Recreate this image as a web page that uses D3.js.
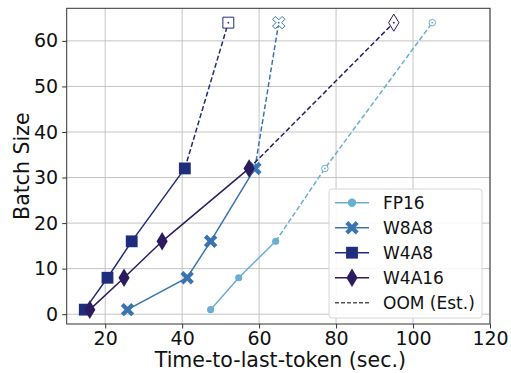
<!DOCTYPE html>
<html>
<head>
<meta charset="utf-8">
<script src="https://cdn.jsdelivr.net/npm/d3@7"></script>
<style>
  body { margin: 0; background: #fff; }
  svg { font-family: "DejaVu Sans", sans-serif; }
</style>
</head>
<body>
<svg id="chart" width="511" height="373"></svg>
<script>
// batch sizes measured, and the estimated OOM point
const batchSizes = [1, 8, 16, 32, 64];
const methods = ["FP16", "W8A8", "W4A8", "W4A16"];
// time-to-last-token per batch size (sec.)
const fp16Times = [47.4, 54.7, 64.3, 77.1, 105.0];
const w8a8Times = [25.8, 41.3, 47.4, 58.9, 65.1];
const w4a8Times = [14.7, 20.6, 26.9, 40.7, 52.0];
const w4a16Times = [16.0, 24.9, 34.8, 57.4, 95.0];
// index where the estimated (OOM) part begins for each method
const oomStart = [3, 4, 4, 4];
const xTicks = [20, 40, 60, 80, 100, 120];
const yTicks = [0, 10, 20, 30, 40, 50, 60];

const colors = ["#6aaed0", "#3a74b0", "#1e2e7c", "#2d1b60"];
const shapes = ["circle", "cross", "square", "diamond"];
const allTimes = [fp16Times, w8a8Times, w4a8Times, w4a16Times];

const margin = { left: 66.7, right: 21, top: 8.3, bottom: 49 };
const W = 511, H = 373;
const width = W - margin.left - margin.right;
const height = H - margin.top - margin.bottom;

const svg = d3.select("#chart");
const g = svg.append("g").attr("transform", `translate(${margin.left},${margin.top})`);

const x = d3.scaleLinear().domain([10, 120]).range([0, width]);
const y = d3.scaleLinear().domain([-2.15, 67.15]).range([height, 0]);

// grid
g.append("g").selectAll("line").data(xTicks).join("line")
  .attr("x1", d => x(d)).attr("x2", d => x(d))
  .attr("y1", 0).attr("y2", height)
  .attr("stroke", "#c4c4c4").attr("stroke-width", 1);
g.append("g").selectAll("line").data(yTicks).join("line")
  .attr("y1", d => y(d)).attr("y2", d => y(d))
  .attr("x1", 0).attr("x2", width)
  .attr("stroke", "#c4c4c4").attr("stroke-width", 1);

// axes
const xAxis = g.append("g").attr("transform", `translate(0,${height})`)
  .call(d3.axisBottom(x).tickValues(xTicks).tickSize(4.5).tickPadding(3.3).tickSizeOuter(0));
const yAxis = g.append("g")
  .call(d3.axisLeft(y).tickValues(yTicks).tickSize(4.5).tickPadding(4).tickSizeOuter(0));
[xAxis, yAxis].forEach(a => {
  a.select(".domain").remove();
  a.selectAll("text").attr("font-size", 19).attr("fill", "#111").attr("font-family", "DejaVu Sans");
  a.selectAll("line").attr("stroke", "#333");
});

g.append("rect").attr("width", width).attr("height", height)
  .attr("fill", "none").attr("stroke", "#333").attr("stroke-width", 1);

function symbolPath(shape, size) {
  if (shape === "circle") return d3.symbol(d3.symbolCircle, size)();
  if (shape === "square") return d3.symbol(d3.symbolSquare, size)();
  if (shape === "cross") {
    // thick X
    const a = Math.sqrt(size) / 2, t = a * 0.45;
    const pts = [[0, -t], [a - t, -a], [a, -a + t], [t, 0], [a, a - t], [a - t, a], [0, t],
      [-a + t, a], [-a, a - t], [-t, 0], [-a, -a + t], [-a + t, -a]];
    return "M" + pts.map(p => p.join(",")).join("L") + "Z";
  }
  // tall thin diamond
  const s = Math.sqrt(size);
  const hw = s * 0.36, hh = s * 0.6;
  return `M0,${-hh}L${hw},0L0,${hh}L${-hw},0Z`;
}
const sizes = { circle: 40, cross: 180, square: 140, diamond: 240 };

const line = d3.line().x(d => x(d[0])).y(d => y(d[1]));

methods.forEach((m, i) => {
  const pts = allTimes[i].map((t, j) => [t, batchSizes[j]]);
  const k = oomStart[i];
  const solid = pts.slice(0, k);
  const dashed = pts.slice(k - 1);
  g.append("path").datum(solid).attr("d", line)
    .attr("fill", "none").attr("stroke", colors[i]).attr("stroke-width", 1.5);
  g.append("path").datum(dashed).attr("d", line)
    .attr("fill", "none").attr("stroke", colors[i]).attr("stroke-width", 1.5)
    .attr("stroke-dasharray", "5,2.5");
  const mk = g.append("g").selectAll("g").data(pts).join("g")
    .attr("transform", d => `translate(${x(d[0])},${y(d[1])})`);
  mk.append("path")
    .attr("d", (d, j) => symbolPath(shapes[i], j >= k ? sizes[shapes[i]] * 0.85 : sizes[shapes[i]]))
    .attr("fill", (d, j) => j >= k ? "#fff" : colors[i])
    .attr("stroke", colors[i])
    .attr("stroke-width", (d, j) => j >= k ? 1 : 0);
  mk.filter((d, j) => j >= k).append("circle")
    .attr("r", 0.9).attr("fill", colors[i]);
});

// legend
const lg = svg.append("g").attr("transform", "translate(329,189)");
lg.append("rect").attr("width", 153).attr("height", 129).attr("rx", 3)
  .attr("fill", "#fff").attr("fill-opacity", 0.85).attr("stroke", "#d6d6d6");
const entries = methods.concat(["OOM (Est.)"]);
entries.forEach((e, i) => {
  const cy = 13.7 + i * 25;
  const row = lg.append("g").attr("transform", `translate(0,${cy})`);
  const c = i < 4 ? colors[i] : "#555";
  row.append("line").attr("x1", 6).attr("x2", 40).attr("stroke", c).attr("stroke-width", 1.5)
    .attr("stroke-dasharray", i < 4 ? null : "4,2");
  if (i < 4) {
    row.append("path").attr("transform", "translate(23,0)")
      .attr("d", symbolPath(shapes[i], sizes[shapes[i]] * (i === 0 ? 1.4 : 1))).attr("fill", c);
  }
  row.append("text").attr("x", 54).attr("y", 0).attr("dy", "0.36em")
    .attr("font-size", 17).attr("fill", "#111").text(e);
});

// axis titles
svg.append("text").attr("x", margin.left + width / 2 + 2).attr("y", 367)
  .attr("text-anchor", "middle").attr("font-size", 20.5).attr("fill", "#111")
  .text("Time-to-last-token (sec.)");
svg.append("text").attr("transform", `translate(28.5,${margin.top + height / 2}) rotate(-90)`)
  .attr("text-anchor", "middle").attr("font-size", 20.5).attr("fill", "#111")
  .text("Batch Size");
</script>
</body>
</html>
